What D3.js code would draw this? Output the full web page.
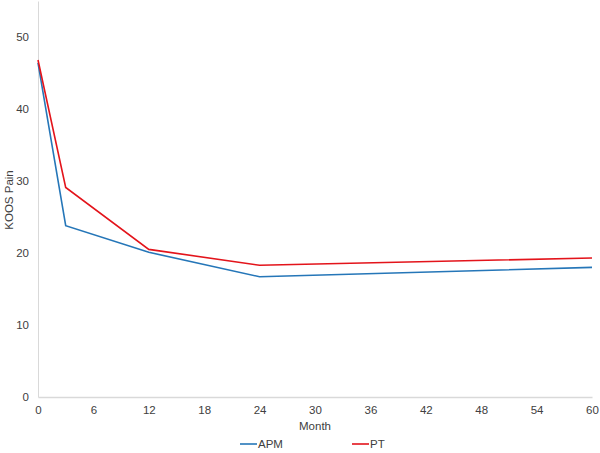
<!DOCTYPE html>
<html><head><meta charset="utf-8">
<script src="https://cdn.jsdelivr.net/npm/d3@7"></script>
<style>body{margin:0;background:#fff}svg{display:block}text{font-family:"Liberation Sans",Arial,sans-serif}</style>
</head><body>
<svg id="c" width="600" height="453"></svg>
<script>
const months = [0, 3, 12, 24, 60];
const apm = [46.4, 23.8, 20.1, 16.7, 18.0];
const pt = [46.8, 29.1, 20.5, 18.3, 19.3];
const xTicks = [0, 6, 12, 18, 24, 30, 36, 42, 48, 54, 60];
const yTicks = [0, 10, 20, 30, 40, 50];
const seriesNames = ["APM", "PT"];
const colors = ["#2576b8", "#e3141b"];

const svg = d3.select("#c");
const x = d3.scaleLinear().domain([0, 60]).range([38, 592]);
const y = d3.scaleLinear().domain([0, 55]).range([397, 1]);

const xa = svg.append("g").attr("transform", "translate(0,397)")
  .call(d3.axisBottom(x).tickValues(xTicks).tickSize(0).tickPadding(9));
xa.select(".domain").attr("stroke", "#d9d9d9").attr("stroke-width", 1.5);
xa.selectAll("text").attr("font-size", 11.5).attr("fill", "#404040");

const ya = svg.append("g").attr("transform", "translate(38,0)")
  .call(d3.axisLeft(y).tickValues(yTicks).tickSize(0).tickPadding(9));
ya.select(".domain").attr("stroke", "#d9d9d9").attr("stroke-width", 1);
ya.selectAll("text").attr("font-size", 11.5).attr("fill", "#404040");

const line = d3.line().x((d, i) => x(months[i])).y(d => y(d));
[apm, pt].forEach((s, k) => {
  svg.append("path").datum(s).attr("d", line).attr("fill", "none")
    .attr("stroke", colors[k]).attr("stroke-width", 1.6);
});

svg.append("text").attr("x", 315).attr("y", 430).attr("text-anchor", "middle")
  .attr("font-size", 11.5).attr("fill", "#404040").text("Month");
svg.append("text").attr("transform", "translate(13,200) rotate(-90)").attr("text-anchor", "middle")
  .attr("font-size", 11.5).attr("fill", "#404040").text("KOOS Pain");

const legX = [240, 352];
seriesNames.forEach((n, k) => {
  svg.append("line").attr("x1", legX[k]).attr("x2", legX[k] + 17).attr("y1", 444).attr("y2", 444)
    .attr("stroke", colors[k]).attr("stroke-width", 1.6);
  svg.append("text").attr("x", legX[k] + 18).attr("y", 448).attr("font-size", 11.5)
    .attr("fill", "#404040").text(n);
});
</script>
</body></html>
